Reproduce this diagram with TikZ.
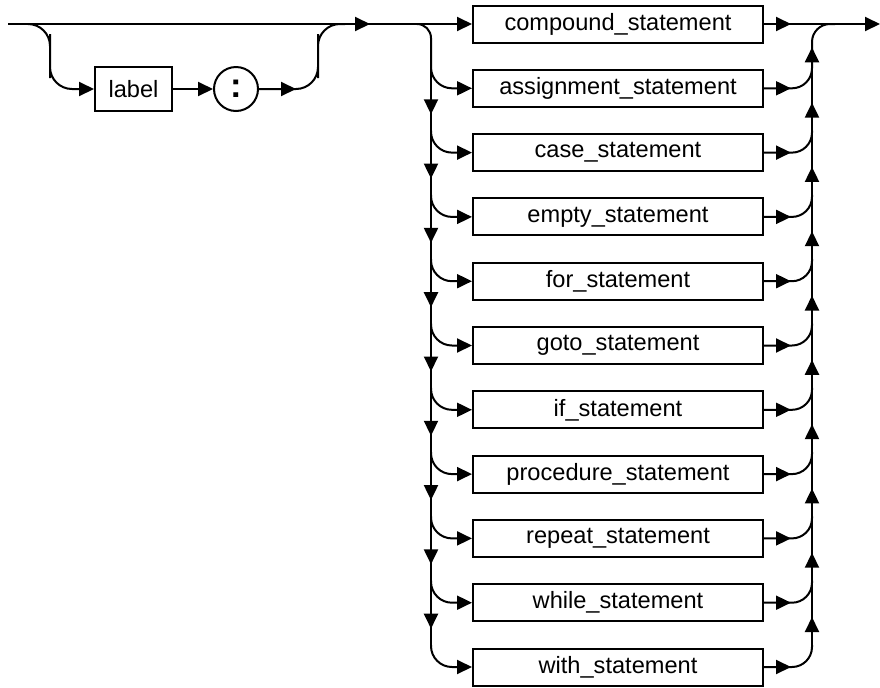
\documentclass[tikz,border=0pt]{standalone}
\usepackage{fontspec}
\setmainfont{Liberation Sans}
\usepackage{tikz}
\usetikzlibrary{arrows.meta, decorations.markings}
\newcommand{\stmtfont}{\fontsize{11.8}{14}\selectfont}

\begin{document}
\begin{tikzpicture}[
  x=0.5pt, y=-0.5pt,
  >={Triangle[length=7.5pt, width=7pt]},
  stmt/.style={draw, line width=1pt, minimum width=145pt,
    minimum height=18.5pt, inner sep=0pt, font=\stmtfont},
  term/.style={draw, circle, line width=1pt, minimum size=22pt,
    inner sep=0pt, font=\LARGE\bfseries},
  conn/.style={line width=1pt},
  midarrow/.style={postaction={decorate}, decoration={markings,
    mark=at position #1 with {\arrow{>}}}}
]
  \useasboundingbox (0,0) rectangle (880,687);

  % optional label
  \node[stmt, minimum width=38.5pt, minimum height=22pt] (label) at (133.5,89) {label};
  \node[term] (colon) at (236,89) {:};

  % statement column
  \node[stmt] (compound)  at (618,24)    {compound\_statement};
  \node[stmt] (assign)    at (618,88.3)  {assignment\_statement};
  \node[stmt] (case)      at (618,152.6) {case\_statement};
  \node[stmt] (empty)     at (618,216.9) {empty\_statement};
  \node[stmt] (for)       at (618,281.2) {for\_statement};
  \node[stmt] (goto)      at (618,345.5) {goto\_statement};
  \node[stmt] (if)        at (618,409.8) {if\_statement};
  \node[stmt] (procedure) at (618,474.1) {procedure\_statement};
  \node[stmt] (repeat)    at (618,538.4) {repeat\_statement};
  \node[stmt] (while)     at (618,602.7) {while\_statement};
  \node[stmt] (with)      at (618,667)   {with\_statement};

  \coordinate (start)  at (8,24);
  \coordinate (end)    at (880,24);
  \coordinate (splitA) at (28,24);
  \coordinate (lbend)  at (50,56);
  \coordinate (rbend)  at (318,56);
  \coordinate (mergeA) at (345,24);
  \coordinate (splitL) at (417,24);
  \coordinate (joinR)  at (835,24);

  % branch points on the left and right rails
  \coordinate (split1)  at (431,66.3);  \coordinate (join1)  at (812,66.3);
  \coordinate (split2)  at (431,130.6); \coordinate (join2)  at (812,130.6);
  \coordinate (split3)  at (431,194.9); \coordinate (join3)  at (812,194.9);
  \coordinate (split4)  at (431,259.2); \coordinate (join4)  at (812,259.2);
  \coordinate (split5)  at (431,323.5); \coordinate (join5)  at (812,323.5);
  \coordinate (split6)  at (431,387.8); \coordinate (join6)  at (812,387.8);
  \coordinate (split7)  at (431,452.1); \coordinate (join7)  at (812,452.1);
  \coordinate (split8)  at (431,516.4); \coordinate (join8)  at (812,516.4);
  \coordinate (split9)  at (431,580.7); \coordinate (join9)  at (812,580.7);
  \coordinate (split10) at (431,645);   \coordinate (join10) at (812,645);

  % main line and label loop
  \draw[conn, ->, midarrow=181pt] (start) -- (compound.west);
  \draw[conn, ->, rounded corners=11pt] (splitA) -| (lbend) |- (label.west);
  \draw[conn, ->] (label) -- (colon);
  \draw[conn, rounded corners=11pt, midarrow=18.5pt] (colon) -| (rbend) |- (mergeA);
  \draw[conn, ->, midarrow=13.5pt] (compound.east) -- (end);

  % left rail
  \draw[conn, rounded corners=7pt, midarrow=27pt] (splitL) -| (split1);
  \draw[conn, midarrow=24pt] (split1) -- (split2);
  \draw[conn, midarrow=24pt] (split2) -- (split3);
  \draw[conn, midarrow=24pt] (split3) -- (split4);
  \draw[conn, midarrow=24pt] (split4) -- (split5);
  \draw[conn, midarrow=24pt] (split5) -- (split6);
  \draw[conn, midarrow=24pt] (split6) -- (split7);
  \draw[conn, midarrow=24pt] (split7) -- (split8);
  \draw[conn, midarrow=24pt] (split8) -- (split9);
  \draw[conn, midarrow=24pt] (split9) -- (split10);

  \draw[conn, ->, rounded corners=10.5pt] (split1)  |- (assign.west);
  \draw[conn, ->, rounded corners=10.5pt] (split2)  |- (case.west);
  \draw[conn, ->, rounded corners=10.5pt] (split3)  |- (empty.west);
  \draw[conn, ->, rounded corners=10.5pt] (split4)  |- (for.west);
  \draw[conn, ->, rounded corners=10.5pt] (split5)  |- (goto.west);
  \draw[conn, ->, rounded corners=10.5pt] (split6)  |- (if.west);
  \draw[conn, ->, rounded corners=10.5pt] (split7)  |- (procedure.west);
  \draw[conn, ->, rounded corners=10.5pt] (split8)  |- (repeat.west);
  \draw[conn, ->, rounded corners=10.5pt] (split9)  |- (while.west);
  \draw[conn, ->, rounded corners=10.5pt] (split10) |- (with.west);

  % right rail
  \draw[conn, midarrow=13.5pt, rounded corners=10pt] (assign.east)    -| (join1);
  \draw[conn, midarrow=13.5pt, rounded corners=10pt] (case.east)      -| (join2);
  \draw[conn, midarrow=13.5pt, rounded corners=10pt] (empty.east)     -| (join3);
  \draw[conn, midarrow=13.5pt, rounded corners=10pt] (for.east)       -| (join4);
  \draw[conn, midarrow=13.5pt, rounded corners=10pt] (goto.east)      -| (join5);
  \draw[conn, midarrow=13.5pt, rounded corners=10pt] (if.east)        -| (join6);
  \draw[conn, midarrow=13.5pt, rounded corners=10pt] (procedure.east) -| (join7);
  \draw[conn, midarrow=13.5pt, rounded corners=10pt] (repeat.east)    -| (join8);
  \draw[conn, midarrow=13.5pt, rounded corners=10pt] (while.east)     -| (join9);
  \draw[conn, midarrow=13.5pt, rounded corners=10pt] (with.east)      -| (join10);

  \draw[conn, rounded corners=9pt, midarrow=9.5pt] (join1) |- (joinR);
  \draw[conn, midarrow=14pt] (join2)  -- (join1);
  \draw[conn, midarrow=14pt] (join3)  -- (join2);
  \draw[conn, midarrow=14pt] (join4)  -- (join3);
  \draw[conn, midarrow=14pt] (join5)  -- (join4);
  \draw[conn, midarrow=14pt] (join6)  -- (join5);
  \draw[conn, midarrow=14pt] (join7)  -- (join6);
  \draw[conn, midarrow=14pt] (join8)  -- (join7);
  \draw[conn, midarrow=14pt] (join9)  -- (join8);
  \draw[conn, midarrow=14pt] (join10) -- (join9);
\end{tikzpicture}
\end{document}
